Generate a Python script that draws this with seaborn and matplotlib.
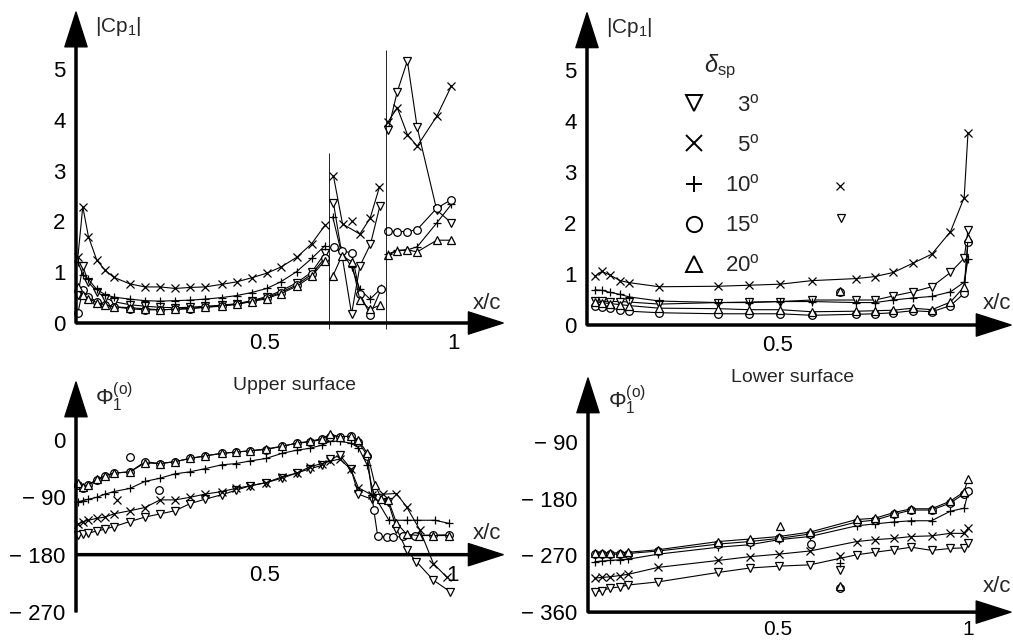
import numpy as np
import pandas as pd
import matplotlib
matplotlib.use('Agg')
import matplotlib.pyplot as plt
from matplotlib.lines import Line2D
import seaborn as sns

# ---- series keys / markers ----
DELTAS = ['3°', '5°', '10°', '15°', '20°']
MARKERS = {'3°': 'v', '5°': 'x', '10°': '+', '15°': 'o', '20°': '^'}
LEGEND_LABELS = ['  3$^{\\rm o}$', '  5$^{\\rm o}$', '10$^{\\rm o}$', '15$^{\\rm o}$', '20$^{\\rm o}$']

# ---- |Cp1|, upper surface (top left) ----
CPU_X_LE = [0.005, 0.018, 0.033, 0.055, 0.077, 0.10, 0.143, 0.183, 0.223, 0.263,
            0.302, 0.342, 0.386, 0.426, 0.466, 0.506, 0.543, 0.585, 0.625, 0.66]
CPU_3_LE = [0.55, 1.12, 0.80, 0.62, 0.50, 0.42, 0.36, 0.33, 0.31, 0.30,
            0.31, 0.33, 0.35, 0.38, 0.44, 0.52, 0.63, 0.79, 1.00, 1.37]
CPU_5_LE = [1.30, 2.29, 1.70, 1.24, 1.04, 0.90, 0.77, 0.71, 0.71, 0.68,
            0.70, 0.71, 0.76, 0.81, 0.89, 0.98, 1.10, 1.29, 1.56, 1.92]
CPU_10_LE = [1.20, 0.95, 0.86, 0.66, 0.56, 0.51, 0.47, 0.44, 0.43, 0.44,
             0.45, 0.47, 0.50, 0.54, 0.60, 0.68, 0.81, 1.01, 1.27, 1.52]
CPU_15_LE = [0.20, 0.65, 0.52, 0.42, 0.36, 0.32, 0.28, 0.26, 0.26, 0.27,
             0.28, 0.31, 0.33, 0.37, 0.43, 0.50, 0.60, 0.75, 0.96, 1.28]
CPU_20_LE = [0.70, 0.55, 0.48, 0.40, 0.36, 0.32, 0.30, 0.28, 0.26, 0.27,
             0.29, 0.31, 0.34, 0.37, 0.42, 0.48, 0.58, 0.72, 0.92, 1.23]

CPU_X_MID_3 = [0.683, 0.731, 0.753, 0.781, 0.806]
CPU_3_MID = [2.36, 0.18, 1.12, 1.55, 2.30]
CPU_X_MID_5 = [0.683, 0.707, 0.753, 0.780, 0.805]
CPU_5_MID = [2.89, 1.95, 1.75, 2.06, 2.68]
CPU_X_MID_10 = [0.681, 0.702, 0.731, 0.753, 0.780, 0.809]
CPU_10_MID = [2.09, 1.44, 1.10, 0.66, 0.47, 0.68]
CPU_X_MID_15 = [0.684, 0.705, 0.731, 0.753, 0.780, 0.809]
CPU_15_MID = [1.50, 1.42, 1.38, 0.58, 0.16, 0.66]
CPU_X_MID_20 = [0.681, 0.705, 0.731, 0.753, 0.780, 0.806]
CPU_20_MID = [0.92, 1.32, 1.21, 0.45, 0.27, 0.35]

CPU_X_TE = [0.828, 0.852, 0.879, 0.905, 0.957, 0.996]
CPU_3_TE = [3.80, 4.55, 5.16, 3.85, 2.22, 1.97]
CPU_5_TE = [3.96, 4.24, 3.71, 3.48, 4.07, 4.67]
CPU_10_TE = [1.36, 1.43, 1.44, 1.50, 1.97, 2.34]
CPU_15_TE = [1.81, 1.80, 1.80, 1.84, 2.26, 2.43]
CPU_20_TE = [1.34, 1.42, 1.44, 1.40, 1.63, 1.63]

CPU_ISO_D = ['5°']
CPU_ISO_X = [0.731]
CPU_ISO_Y = [2.01]

SLOT_X = [0.671, 0.822]
SLOT_TOP = [3.35, 5.37]

# ---- |Cp1|, lower surface (top right) ----
CPL_X = [0.021, 0.039, 0.06, 0.087, 0.111, 0.19, 0.345, 0.426, 0.507, 0.59,
         0.706, 0.756, 0.804, 0.855, 0.905, 0.954, 0.99, 1.0]
CPL_3 = [0.47, 0.47, 0.46, 0.46, 0.45, 0.41, 0.44, 0.45, 0.46, 0.49,
         0.49, 0.49, 0.57, 0.65, 0.75, 1.03, 1.31, 1.86]
CPL_5 = [0.96, 1.05, 0.98, 0.87, 0.83, 0.75, 0.76, 0.78, 0.80, 0.87,
         0.91, 0.95, 1.03, 1.21, 1.39, 1.83, 2.50, 3.77]
CPL_10 = [0.69, 0.68, 0.64, 0.60, 0.55, 0.47, 0.44, 0.44, 0.46, 0.46,
          0.44, 0.44, 0.49, 0.53, 0.56, 0.65, 0.84, 1.29]
CPL_15 = [0.37, 0.36, 0.33, 0.30, 0.27, 0.24, 0.22, 0.22, 0.22, 0.19,
          0.21, 0.22, 0.24, 0.28, 0.26, 0.38, 0.62, 1.63]
CPL_20 = [0.45, 0.44, 0.42, 0.40, 0.38, 0.33, 0.32, 0.30, 0.30, 0.26,
          0.27, 0.28, 0.29, 0.33, 0.30, 0.45, 0.75, 1.70]

CPL_ISO_D = ['5°', '3°', '15°', '20°']
CPL_ISO_X = [0.664, 0.666, 0.664, 0.664]
CPL_ISO_Y = [2.73, 2.09, 0.65, 0.67]

# ---- phase, upper surface (bottom left) ----
PHU_X = [0.006, 0.019, 0.033, 0.055, 0.077, 0.10, 0.143, 0.183, 0.223, 0.263,
         0.302, 0.342, 0.386, 0.424, 0.461, 0.504, 0.546, 0.585, 0.621, 0.652,
         0.675, 0.70, 0.729, 0.749]
PHU_3 = [-149, -148, -146, -143, -140, -136, -128, -121, -116, -111,
         -100, -93, -86, -79, -72, -67, -60, -52, -45, -40,
         -30, -24, -45, -85]
PHU_5 = [-132, -128, -126, -123, -121, -116, -111, -106, -94, -94,
         -90, -85, -81, -76, -72, -67, -58, -52, -42, -37,
         -33, -30, -46, -75]
PHU_10 = [-97, -95, -93, -90, -85, -81, -76, -65, -60, -53,
          -50, -45, -39, -37, -33, -29, -21, -16, -13, -8,
          -2, -2, -5, -12]
PHU_15 = [-70, -76, -71, -63, -57, -52, -50, -34, -37, -34,
          -29, -25, -21, -19, -17, -15, -10, -5, -3, 1,
          5, 5, 6, -3]
PHU_20 = [-68, -74, -70, -62, -56, -52, -50, -36, -37, -34,
          -29, -25, -21, -19, -17, -14, -10, -5, -2, 2,
          9, 5, 6, 0]

PHU_X_TE_3 = [0.785, 0.828, 0.85, 0.877, 0.903, 0.948, 0.992]
PHU_3_TE = [-93, -97, -139, -173, -191, -220, -238]
PHU_X_TE_5 = [0.784, 0.815, 0.85, 0.877, 0.912, 0.948, 0.983]
PHU_5_TE = [-86, -85, -84, -105, -141, -194, -215]
PHU_X_TE_10 = [0.773, 0.789, 0.83, 0.877, 0.905, 0.952, 0.99]
PHU_10_TE = [-40, -85, -126, -126, -126, -126, -131]
PHU_X_TE_15 = [0.773, 0.79, 0.80, 0.824, 0.842, 0.868, 0.90, 0.948, 0.99]
PHU_15_TE = [-25, -110, -150, -153, -153, -151, -150, -149, -149]
PHU_X_TE_20 = [0.773, 0.793, 0.81, 0.828, 0.85, 0.877, 0.91, 0.948, 0.99]
PHU_20_TE = [-21, -70, -92, -94, -130, -148, -150, -150, -150]

PHU_ISO_D = ['15°', '5°', '15°']
PHU_ISO_X = [0.143, 0.108, 0.221]
PHU_ISO_Y = [-27, -94, -78]

# ---- phase, lower surface (bottom right) ----
PHL_X = [0.018, 0.036, 0.058, 0.083, 0.106, 0.185, 0.343, 0.426, 0.503, 0.584,
         0.707, 0.755, 0.805, 0.851, 0.904, 0.953, 0.99, 1.0]
PHL_3 = [-328, -326, -322, -320, -317, -312, -297, -290, -287, -285,
         -269, -265, -261, -257, -262, -259, -258, -250]
PHL_5 = [-306, -305, -304, -302, -300, -289, -278, -272, -268, -263,
         -248, -245, -243, -240, -239, -235, -235, -227]
PHL_10 = [-280, -279, -278, -277, -276, -268, -257, -253, -245, -240,
          -223, -220, -217, -215, -215, -200, -195, -171]
PHL_15 = [-268, -268, -268, -268, -267, -263, -252, -248, -243, -236,
          -217, -214, -205, -198, -198, -187, -172, -167]
PHL_20 = [-266, -266, -266, -266, -265, -261, -248, -244, -240, -233,
          -213, -211, -202, -196, -196, -184, -169, -148]

PHL_ISO_D = ['20°', '15°', '5°', '10°', '3°', '20°', '15°']
PHL_ISO_X = [0.505, 0.586, 0.663, 0.663, 0.663, 0.663, 0.663]
PHL_ISO_Y = [-224, -252, -271, -282, -293, -318, -322]


def build_frame(segments, iso_d, iso_x, iso_y):
    frames = []
    unit = 0
    for delta, xs, ys in segments:
        frames.append(pd.DataFrame({'x': xs, 'y': ys, 'delta': delta, 'unit': unit}))
        unit += 1
    for d, x, y in zip(iso_d, iso_x, iso_y):
        frames.append(pd.DataFrame({'x': [x], 'y': [y], 'delta': d, 'unit': unit}))
        unit += 1
    return pd.concat(frames, ignore_index=True)


sns.set_theme(style='white')
plt.rcParams['font.family'] = ['Liberation Sans', 'DejaVu Sans']
plt.rcParams['mathtext.fontset'] = 'custom'
plt.rcParams['mathtext.rm'] = 'Liberation Sans'
plt.rcParams['mathtext.it'] = 'Liberation Sans:italic'
plt.rcParams['mathtext.bf'] = 'Liberation Sans:bold'

W, H = 1013, 640
fig = plt.figure(figsize=(W / 100, H / 100), dpi=100)


def make_panel(box, origin, scale):
    left, top, right, bottom = box
    x0, y0 = origin
    kx, ky = scale
    ax = fig.add_axes([left / W, 1 - bottom / H, (right - left) / W, (bottom - top) / H])
    ax.set_xlim((left - x0) / kx, (right - x0) / kx)
    ax.set_ylim((y0 - bottom) / ky, (y0 - top) / ky)
    ax.patch.set_alpha(0)
    for s in ['top', 'right']:
        ax.spines[s].set_visible(False)
    return ax


def draw_axes(ax, x_level, x_tip, y_low, y_tip):
    ax.spines['bottom'].set_position(('data', x_level))
    ax.spines['left'].set_position(('data', 0))
    ax.spines['bottom'].set_color('none')
    ax.spines['left'].set_color('none')
    arrow = dict(facecolor='black', edgecolor='black', width=1.5, headwidth=16, headlength=25, shrink=0)
    ax.annotate('', xy=(x_tip, x_level), xytext=(0, x_level), arrowprops=arrow, annotation_clip=False)
    ax.annotate('', xy=(0, y_tip), xytext=(0, y_low), arrowprops=arrow, annotation_clip=False)
    ax.tick_params(direction='inout', length=9, width=1.4, colors='black', labelsize=16, pad=3)
    ax.set_xlabel('')
    ax.set_ylabel('')


def draw_series(ax, df):
    # one call per spoiler angle: seaborn will not mix filled and line-art markers
    for d in DELTAS:
        sub = df[df['delta'] == d]
        sns.lineplot(data=sub, x='x', y='y', units='unit', estimator=None, sort=False,
                     marker=MARKERS[d], color='black', lw=0.8, ms=5.5, mfc='white',
                     mec='black', mew=0.9, legend=False, ax=ax)


MINUS = '\u2212 '

# top left
ax_tl = make_panel((40, 5, 506, 340), (76, 323), (377, 50.8))
df_tl = build_frame(
    [('3°', CPU_X_LE, CPU_3_LE), ('5°', CPU_X_LE, CPU_5_LE), ('10°', CPU_X_LE, CPU_10_LE),
     ('15°', CPU_X_LE, CPU_15_LE), ('20°', CPU_X_LE, CPU_20_LE),
     ('3°', CPU_X_MID_3, CPU_3_MID), ('5°', CPU_X_MID_5, CPU_5_MID), ('10°', CPU_X_MID_10, CPU_10_MID),
     ('15°', CPU_X_MID_15, CPU_15_MID), ('20°', CPU_X_MID_20, CPU_20_MID),
     ('3°', CPU_X_TE, CPU_3_TE), ('5°', CPU_X_TE, CPU_5_TE), ('10°', CPU_X_TE, CPU_10_TE),
     ('15°', CPU_X_TE, CPU_15_TE), ('20°', CPU_X_TE, CPU_20_TE)],
    CPU_ISO_D, CPU_ISO_X, CPU_ISO_Y)
draw_series(ax_tl, df_tl)
ax_tl.vlines(SLOT_X, -0.12, SLOT_TOP, color='black', lw=0.6)
draw_axes(ax_tl, 0, 1.133, 0, 6.12)
ax_tl.set_xticks([0.25, 0.5, 0.75, 1.0], ['', '0.5', '', '1'])
ax_tl.set_yticks([0, 1, 2, 3, 4, 5], ['0', '1', '2', '3', '4', '5'])
ax_tl.text(0.05, 5.83, r'|Cp$_1$|', fontsize=15, ha='left', va='center')
ax_tl.text(1.053, 0.39, 'x/c', fontsize=16, ha='left', va='center')

# top right
ax_tr = make_panel((545, 5, 1013, 340), (587, 325), (381, 51))
df_tr = build_frame(
    [('3°', CPL_X, CPL_3), ('5°', CPL_X, CPL_5), ('10°', CPL_X, CPL_10),
     ('15°', CPL_X, CPL_15), ('20°', CPL_X, CPL_20)],
    CPL_ISO_D, CPL_ISO_X, CPL_ISO_Y)
draw_series(ax_tr, df_tr)
draw_axes(ax_tr, 0, 1.113, 0, 6.12)
ax_tr.set_xticks([0.25, 0.5, 0.75, 1.0], ['', '0.5', '', ''])
ax_tr.set_yticks([0, 1, 2, 3, 4, 5], ['0', '1', '2', '3', '4', '5'])
ax_tr.text(0.05, 5.83, r'|Cp$_1$|', fontsize=15, ha='left', va='center')
ax_tr.text(1.04, 0.43, 'x/c', fontsize=16, ha='left', va='center')

handles = [Line2D([], [], ls='none', marker=MARKERS[d], ms=11, mfc='white', mec='black', mew=1.4)
           for d in DELTAS]
ax_tr.legend(handles, LEGEND_LABELS, loc='upper left',
             bbox_to_anchor=(683 / W, 1 - 94 / H), bbox_transform=fig.transFigure,
             frameon=False, fontsize=16, handlelength=1.0,
             handletextpad=0.9, labelspacing=0.82, borderpad=0, borderaxespad=0)
ax_tr.text(0.349, 5.06, r'$\delta_{\rm sp}$', fontsize=17, ha='center', va='center')

# bottom left
ax_bl = make_panel((10, 372, 506, 630), (76, 440), (377, 0.637))
df_bl = build_frame(
    [('3°', PHU_X + PHU_X_TE_3, PHU_3 + PHU_3_TE), ('5°', PHU_X + PHU_X_TE_5, PHU_5 + PHU_5_TE),
     ('10°', PHU_X + PHU_X_TE_10, PHU_10 + PHU_10_TE), ('15°', PHU_X + PHU_X_TE_15, PHU_15 + PHU_15_TE),
     ('20°', PHU_X + PHU_X_TE_20, PHU_20 + PHU_20_TE)],
    PHU_ISO_D, PHU_ISO_X, PHU_ISO_Y)
draw_series(ax_bl, df_bl)
draw_axes(ax_bl, -180, 1.133, -270, 91)
ax_bl.set_xticks([0.25, 0.5, 0.75, 1.0], ['', '0.5', '', '1'])
ax_bl.set_yticks([0, -90, -180, -270], ['0', MINUS + '90', MINUS + '180', MINUS + '270'])
ax_bl.text(0.05, 67, r'$\Phi_1^{\rm (o)}$', fontsize=16, ha='left', va='center')
ax_bl.text(1.053, -146, 'x/c', fontsize=16, ha='left', va='center')

# bottom right
ax_br = make_panel((540, 365, 1013, 630), (588, 385.3), (380, 0.63))
df_br = build_frame(
    [('3°', PHL_X, PHL_3), ('5°', PHL_X, PHL_5), ('10°', PHL_X, PHL_10),
     ('15°', PHL_X, PHL_15), ('20°', PHL_X, PHL_20)],
    PHL_ISO_D, PHL_ISO_X, PHL_ISO_Y)
draw_series(ax_br, df_br)
draw_axes(ax_br, -360, 1.113, -360, 11.6)
ax_br.set_xticks([0.25, 0.5, 0.75, 1.0], ['', '0.5', '', '1'])
ax_br.set_yticks([-90, -180, -270, -360], [MINUS + '90', MINUS + '180', MINUS + '270', MINUS + '360'])
ax_br.tick_params(axis='x', labelsize=15, pad=1)
ax_br.text(0.053, -23, r'$\Phi_1^{\rm (o)}$', fontsize=16, ha='left', va='center')
ax_br.text(1.04, -320, 'x/c', fontsize=16, ha='left', va='center')

fig.text(294 / W, 1 - 386 / H, 'Upper surface', fontsize=14, ha='center', va='center')
fig.text(793 / W, 1 - 377 / H, 'Lower surface', fontsize=14, ha='center', va='center')

fig.savefig('out.png', dpi=100)
